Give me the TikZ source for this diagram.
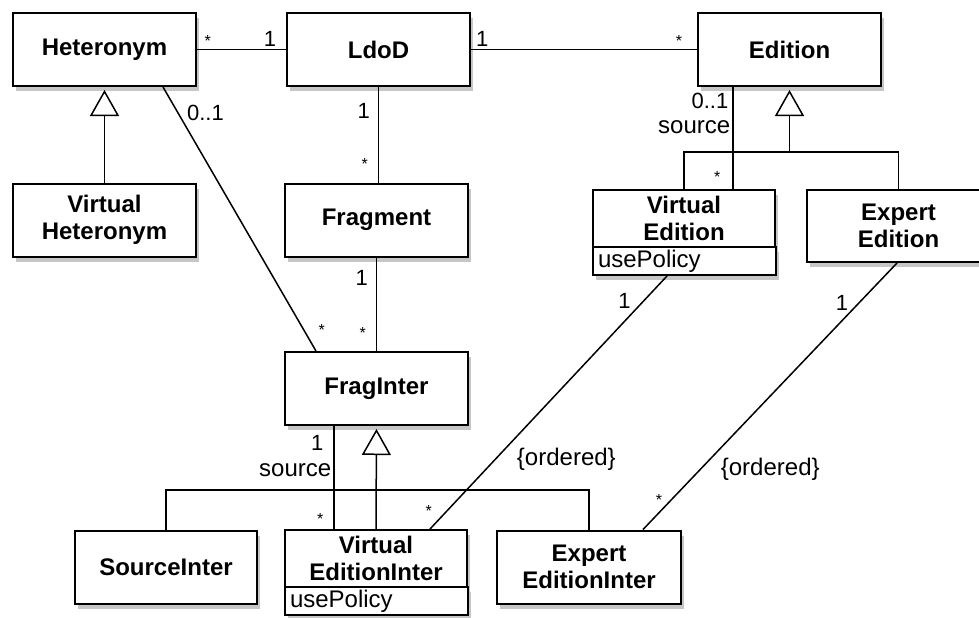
\documentclass[tikz,border=0pt]{standalone}
\usepackage{fontspec}
\setmainfont{Liberation Sans}
\usetikzlibrary{shadows,arrows.meta,calc}

\tikzset{
  cls/.style={draw, line width=1pt, fill=white, align=center, inner sep=0pt,
    font=\fontsize{12}{13.5}\selectfont\bfseries,
    minimum width=91.5pt, minimum height=36.5pt,
    drop shadow={shadow xshift=1.5pt, shadow yshift=-2.5pt, opacity=0.45}},
  attr/.style={cls, font=\fontsize{12}{13}\selectfont, align=left, anchor=north,
    text width=86pt, inner xsep=2.5pt, minimum height=14pt, yshift=1pt},
  assoc/.style={line width=0.75pt},
  gen/.style={assoc, -{Triangle[open, length=13pt, width=14.5pt]}, shorten >=1.5pt},
  mult/.style={font=\fontsize{11}{12}\selectfont, inner sep=1pt},
  role/.style={font=\fontsize{12}{12}\selectfont, inner sep=1pt},
  star/.style={font=\fontsize{8}{8}\selectfont, inner sep=1pt}
}

\begin{document}
\begin{tikzpicture}[x=0.5pt, y=-0.5pt]
\useasboundingbox (0,0) rectangle (979,617);

% top row
\node[cls] (heteronym) at (104.5,49.5) {Heteronym};
\node[cls] (ldod) at (378.5,49.5) {LdoD};
\node[cls] (edition) at (789.5,49.5) {Edition};

% middle row
\node[cls] (virtHeteronym) at (104.5,220) {Virtual\\Heteronym};
\node[cls] (fragment) at (376.5,220) {Fragment};
\node[cls, minimum width=91pt, minimum height=28.5pt] (virtEdition) at (684,218.5) {Virtual\\Edition};
\node[attr] (virtEditionAttr) at (virtEdition.south) {usePolicy};
\node[cls, minimum height=36pt] (expertEdition) at (898.5,226) {Expert\\Edition};

% fraginter
\node[cls] (fragInter) at (376.5,388.5) {FragInter};

% bottom row
\node[cls, minimum width=91pt] (sourceInter) at (166,567) {SourceInter};
\node[cls, minimum width=91pt, minimum height=28.5pt] (virtEdInter) at (376,558.5) {Virtual\\EditionInter};
\node[attr] (virtEdInterAttr) at (virtEdInter.south) {usePolicy};
\node[cls, minimum width=92pt] (expertEdInter) at (589,567) {Expert\\EditionInter};

% generalizations
\draw[gen] (virtHeteronym) -- (heteronym);

\coordinate (editionGen) at (789.5,152);
\draw[assoc] (virtEdition.north) |- (editionGen) -| (expertEdition.north);
\draw[gen] (editionGen) -- (edition.south);

\coordinate (interGen) at (376,490);
\draw[assoc] (sourceInter.north) |- (interGen) -| (expertEdInter.north);
\draw[gen] (virtEdInter.north) -- (fragInter.south);

% associations
\draw[assoc] (heteronym.east) -- (ldod.west)
  node[star, above, pos=0.12] {*}
  node[mult, above, pos=0.82] {1};
\draw[assoc] (ldod.east) -- (edition.west)
  node[mult, above, pos=0.05] {1}
  node[star, above, pos=0.92] {*};
\draw[assoc] ($(heteronym.south)+(58.5,0)$) -- ($(fragInter.north)+(-60.5,0)$)
  node[mult, right, pos=0.1, xshift=3pt] {0..1}
  node[star, right, pos=0.92, xshift=6pt] {*};
\draw[assoc] (ldod.south) -- (ldod.south |- fragment.north)
  node[mult, left, pos=0.25, xshift=-3pt] {1}
  node[star, left, pos=0.81, xshift=-4pt] {*};
\draw[assoc] (fragment.south) -- (fragInter.north)
  node[mult, left, pos=0.22, xshift=-3pt] {1}
  node[star, left, pos=0.81, xshift=-4pt] {*};

% source of a virtual edition
\draw[assoc] ($(edition.south)+(-56.5,0)$) -- ($(virtEdition.north)+(49,0)$)
  node[mult, left, pos=0.14, xshift=-1pt] {0..1}
  node[role, left, pos=0.39, xshift=0pt] {source}
  node[star, left, pos=0.88, xshift=-5pt] {*};
\draw[assoc] ($(virtEditionAttr.south)+(-17,0)$) -- ($(virtEdInter.north)+(54,0)$)
  node[mult, left, pos=0.1, xshift=-5pt] {1}
  node[role, anchor=north west, pos=0.67, xshift=3pt] {\{ordered\}}
  node[star, left, pos=0.93, xshift=-6pt] {*};
\draw[assoc] ($(expertEdition.south)+(-1.5,0)$) -- ($(expertEdInter.north)+(54,0)$)
  node[mult, left, pos=0.15, xshift=-4pt] {1}
  node[role, anchor=north west, pos=0.72, xshift=2pt] {\{ordered\}}
  node[star, left, pos=0.89, xshift=-3pt] {*};

% source of a fraginter
\draw[assoc] ($(fragInter.south)+(-42.5,0)$) -- ($(virtEdInter.north)+(-42,0)$)
  node[mult, left, pos=0.16, xshift=-4pt] {1}
  node[role, left, pos=0.43, xshift=0pt] {source}
  node[star, left, pos=0.9, xshift=-4pt] {*};

\end{tikzpicture}
\end{document}
